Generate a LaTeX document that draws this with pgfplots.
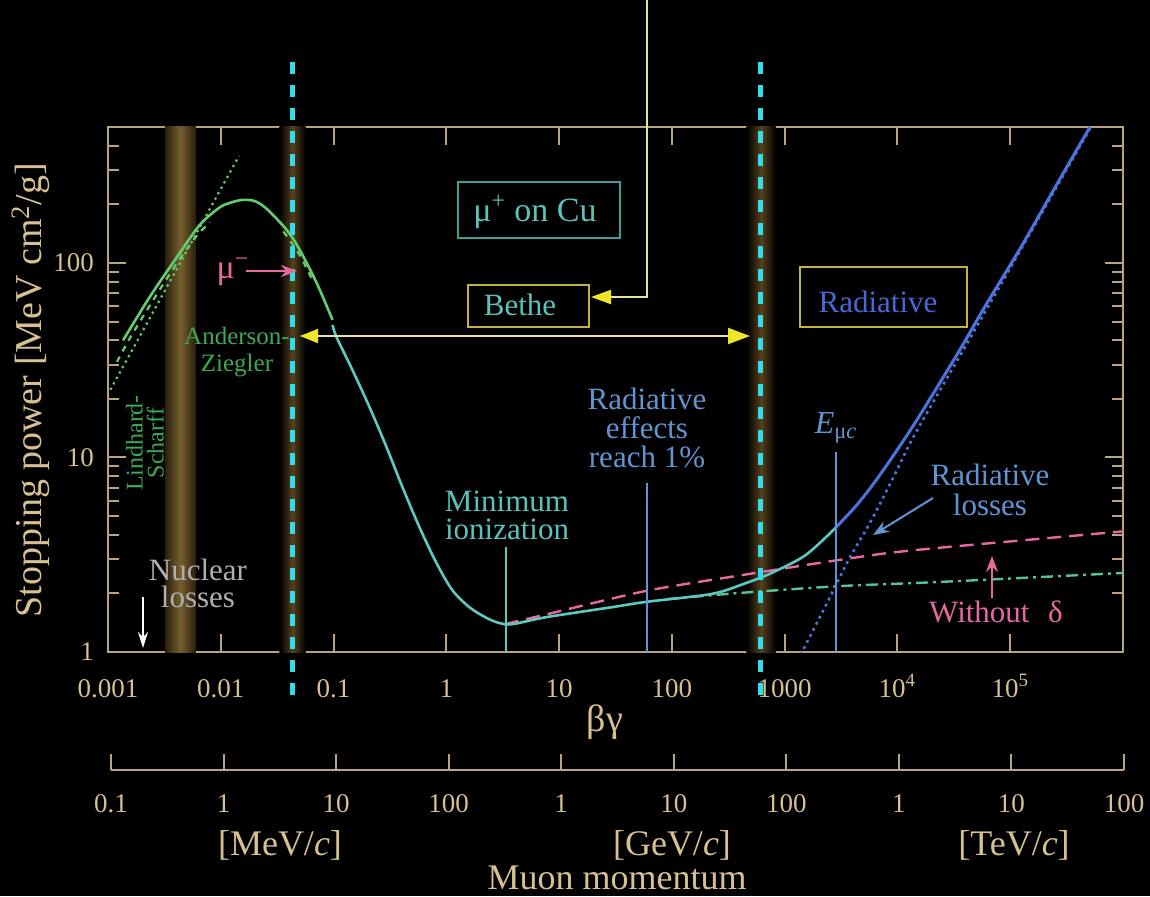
\documentclass[border=0pt]{standalone}
\usepackage{fontspec}
\setmainfont{Liberation Serif}
\usepackage{pgfplots}
\pgfplotsset{compat=1.18}
\usetikzlibrary{arrows.meta}

\definecolor{axiscol}{RGB}{185,165,125}
\definecolor{textcol}{RGB}{215,192,145}
\definecolor{tealc}{RGB}{95,200,190}
\definecolor{tealtext}{RGB}{90,195,185}
\definecolor{greenc}{RGB}{100,205,110}
\definecolor{greentext}{RGB}{60,170,85}
\definecolor{bluec}{RGB}{75,115,220}
\definecolor{steelc}{RGB}{95,150,210}
\definecolor{pinkc}{RGB}{230,105,160}
\definecolor{cyanc}{RGB}{50,220,235}
\definecolor{yellowc}{RGB}{240,230,40}
\definecolor{paleyellow}{RGB}{235,225,150}
\definecolor{boxyellow}{RGB}{195,180,60}
\definecolor{boxteal}{RGB}{60,160,150}
\definecolor{bandmid}{RGB}{120,95,48}
\definecolor{bandedge}{RGB}{40,30,12}
\definecolor{bandmidB}{RGB}{85,65,28}
\definecolor{grayc}{RGB}{175,175,175}
\definecolor{dashdotc}{RGB}{90,195,150}
\definecolor{radtext}{RGB}{70,105,215}

\newcommand{\fs}[2]{\fontsize{#1}{#2}\selectfont}

\begin{document}
\begin{tikzpicture}
\begin{scope}[x=0.5pt,y=-0.5pt,shift={(-108,-652)}]
  \fill[black] (0,0) rectangle (1150,896);
\end{scope}

\begin{axis}[
  at={(0pt,0pt)}, anchor=south west,
  scale only axis, width=507.5pt, height=262.5pt,
  xmode=log, ymode=log,
  xmin=1e-3, xmax=1e6, ymin=1, ymax=500,
  clip mode=individual,
  axis line style={draw=axiscol, line width=1pt},
  tick style={draw=axiscol, line width=1pt},
  major tick length=9pt, minor tick length=5.5pt,
  tick align=inside,
  xtick={1e-3,1e-2,0.1,1,10,100,1000,1e4,1e5},
  xticklabels={0.001,0.01,0.1,1,10,100,1000,{10\textsuperscript{4}},{10\textsuperscript{5}}},
  xminorticks=false,
  ytick={1,10,100},
  yticklabels={1,10,100},
  minor ytick={2,3,4,5,6,7,8,9,20,30,40,50,60,70,80,90,200,300,400,500},
  ticklabel style={font=\fs{13.5}{14}, text=textcol},
  xticklabel style={anchor=base, yshift=-22.5pt},
  yticklabel style={xshift=-3.5pt},
]
% bands
\shade[left color=bandedge, right color=bandedge, middle color=bandmid]
  (axis cs:0.00319,1) rectangle (axis cs:0.00601,500);
\shade[left color=black, right color=black, middle color=bandmidB]
  (axis cs:0.0332,1) rectangle (axis cs:0.0565,500);
\shade[left color=black, right color=black, middle color=bandmidB]
  (axis cs:461,1) rectangle (axis cs:832,500);

% Lindhard-Scharff (dotted)
\addplot[greenc, line width=1.1pt, dotted] coordinates {(0.00105,22.3) (0.0145,355)};
% Anderson-Ziegler dashed (low end)
\addplot[greenc, line width=1.1pt, dashed, smooth] coordinates {
 (0.0012,31) (0.0016,42) (0.0025,64) (0.004,98) (0.006,136) (0.008,162)};
% mu- dashed
\addplot[greenc, line width=1.1pt, dashed, smooth] coordinates {(0.036,145) (0.05,110) (0.066,80)};
% Anderson-Ziegler solid
\addplot[greenc, line width=1.3pt, smooth] coordinates {
 (0.00136,40) (0.00235,67) (0.00408,107) (0.00652,157) (0.00979,193) (0.0125,205)
 (0.0157,211) (0.02,208) (0.0255,190) (0.0384,148) (0.050,117) (0.0708,79) (0.098,51)};
% without delta (pink dashed)
\addplot[pinkc, line width=1.2pt, dash pattern=on 7pt off 4pt, smooth] coordinates {
 (3.3,1.39) (7.67,1.56) (58.9,2.06) (392,2.47) (1535,2.80) (3006,2.97) (8320,3.23)
 (23000,3.43) (67900,3.63) (1e6,4.17)};
% ionization only (dash-dot)
\addplot[dashdotc, line width=1.2pt, dash pattern=on 6pt off 2.5pt on 1.5pt off 2.5pt, smooth] coordinates {
 (90,1.87) (392,2.01) (3006,2.18) (23000,2.29) (1e6,2.55)};
% radiative losses (dotted)
\addplot[bluec, line width=1.3pt, dash pattern=on 1.4pt off 2pt, smooth] coordinates {
 (1300,0.9) (2449,1.85) (3680,2.97) (5890,4.77) (9600,8.32) (14400,13.3) (36000,33.5)
 (125000,118) (520000,500)};
% total with radiative (blue solid)
\addplot[bluec, line width=1.5pt, smooth] coordinates {
 (2826,4.35) (4250,5.6) (6000,7.2) (8320,9.4) (11500,12.4) (15300,16.0) (22000,22.5)
 (36000,36) (60000,60) (125000,121) (250000,245) (510000,500)};
% Bethe (teal solid)
\addplot[tealc, line width=1.3pt, smooth] coordinates {
 (0.098,48) (0.106,41.7) (0.147,28.2) (0.208,18.2) (0.295,11.3) (0.408,7.05) (0.577,4.39)
 (0.817,2.87) (1.13,2.08) (1.60,1.70) (2.26,1.50) (2.94,1.41) (3.84,1.39) (7.67,1.51)
 (29.4,1.70) (58.9,1.81) (226,1.99) (452,2.26) (767,2.55) (1535,3.15) (2826,4.35)};

% marker lines
\draw[tealc, line width=1pt] (axis cs:3.40,1) -- (axis cs:3.40,3.47);
\draw[steelc, line width=1pt] (axis cs:60,1) -- (axis cs:60,7.39);
\draw[steelc, line width=1pt] (axis cs:2826,1) -- (axis cs:2826,10.7);

\coordinate (cAtop) at (axis cs:0.0433,1075);
\coordinate (cAbot) at (axis cs:0.0433,0.56);
\coordinate (cBtop) at (axis cs:614,1075);
\coordinate (cBbot) at (axis cs:614,0.56);
\end{axis}

% secondary momentum axis
\begin{axis}[
  at={(1.5pt,-59pt)}, anchor=south west,
  scale only axis, width=506.5pt, height=20pt,
  xmode=log, xmin=0.1, xmax=1e8, ymin=0, ymax=1,
  hide y axis, axis x line=bottom,
  x axis line style={-, draw=axiscol, line width=1pt},
  tick style={draw=axiscol, line width=1pt},
  tick align=inside, major tick length=8pt,
  xtick={0.1,1,10,100,1000,1e4,1e5,1e6,1e7,1e8},
  xticklabels={0.1,1,10,100,1,10,100,1,10,100},
  xminorticks=false,
  ticklabel style={font=\fs{13.5}{14}, text=textcol},
  xticklabel style={anchor=base, yshift=-21pt},
]
\addplot[draw=none] coordinates {(1,0.5)};
\end{axis}

% cyan dashed lines on top
\draw[cyanc, line width=2.6pt, dash pattern=on 6pt off 5.5pt] (cAtop) -- (cAbot);
\draw[cyanc, line width=2.6pt, dash pattern=on 6pt off 5.5pt] (cBtop) -- (cBbot);

\begin{scope}[x=0.5pt,y=-0.5pt,shift={(-108,-652)}]
  % axis titles
  \node[rotate=90, text=textcol, font=\fs{19}{20}] at (31,390) {Stopping power [MeV cm\textsuperscript{2}/g]};
  \node[text=textcol, font=\fs{19}{20}] at (605,722) {βγ};
  \node[text=textcol, font=\fs{18}{20}] at (280,845) {[MeV/\textit{c}]};
  \node[text=textcol, font=\fs{18}{20}] at (672,845) {[GeV/\textit{c}]};
  \node[text=textcol, font=\fs{18}{20}] at (1014,845) {[TeV/\textit{c}]};
  \node[text=textcol, font=\fs{18}{20}] at (617,878) {Muon momentum};

  % yellow arrows
  \draw[paleyellow, line width=1pt, -{Triangle[length=10pt,width=7pt,color=yellowc]}]
    (647,0) -- (647,297) -- (591,297);
  \draw[paleyellow, line width=1pt, {Triangle[length=9pt,width=7pt,color=yellowc]}-{Triangle[length=11pt,width=8pt,color=yellowc]}]
    (300,336) -- (750,336);

  % boxes
  \draw[boxteal, line width=1pt] (458,182) rectangle (620,238);
  \node[text=tealtext, font=\fs{17}{18}] at (535,212) {μ\textsuperscript{+} on Cu};
  \draw[boxyellow, line width=1pt] (468,285) rectangle (589,327);
  \node[text=tealtext, font=\fs{15.5}{16}] at (520,305) {Bethe};
  \draw[boxyellow, line width=1pt] (800,267) rectangle (967,327);
  \node[text=radtext, font=\fs{15.5}{16}] at (878,302) {Radiative};

  % annotations
  \node[align=center, text=tealtext, font=\fs{15.5}{14}] at (507,515) {Minimum\\ionization};
  \node[align=center, text=steelc, font=\fs{15.5}{14.5}] at (647,428) {Radiative\\effects\\reach 1\%};
  \node[text=steelc, font=\fs{16}{16}] at (836,428) {\textit{E}\textsubscript{μ\textit{c}}};
  \node[align=center, text=steelc, font=\fs{15.5}{15}] at (990,490) {Radiative\\losses};
  \draw[steelc, line width=1pt, -{Stealth[length=8pt,width=6pt]}] (933,498) -- (873,535);
  \node[text=pinkc, font=\fs{15.5}{16}] at (996,612) {Without\hspace{0.6em}δ};
  \draw[pinkc, line width=1pt, -{Stealth[length=8pt,width=6pt]}] (992,598) -- (992,556);
  \node[align=center, text=grayc, font=\fs{15.5}{13.5}] at (198,583) {Nuclear\\losses};
  \draw[white, line width=1pt, -{Stealth[length=8pt,width=5pt]}] (143,597) -- (143,648);
  \node[text=pinkc, font=\fs{17}{18}] at (233,272) {μ\textsuperscript{−}};
  \draw[pinkc, line width=1pt, -{Stealth[length=8pt,width=6pt]}] (246,271) -- (297,271);
  \node[align=center, text=greentext, font=\fs{12.5}{13.5}] at (237,352) {Anderson-\\Ziegler};
  \node[rotate=90, align=center, text=greentext, font=\fs{12}{10.5}] at (145,443) {Lindhard-\\Scharff};
\end{scope}

\pgfresetboundingbox
\begin{scope}[x=0.5pt,y=-0.5pt,shift={(-108,-652)}]
  \useasboundingbox (0,0) rectangle (1150,896);
\end{scope}
\end{tikzpicture}
\end{document}
